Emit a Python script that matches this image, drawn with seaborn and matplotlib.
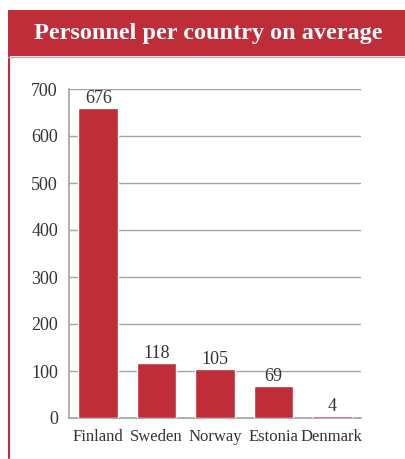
import matplotlib
matplotlib.use("Agg")
import matplotlib.pyplot as plt
import seaborn as sns
import pandas as pd
from matplotlib.patches import Rectangle
from matplotlib.lines import Line2D

countries = ["Finland", "Sweden", "Norway", "Estonia", "Denmark"]
bar_heights = [660, 118, 105, 69, 4]
bar_labels = ["676", "118", "105", "69", "4"]
y_ticks = [0, 100, 200, 300, 400, 500, 600, 700]
title = "Personnel per country on average"

RED = "#BE2D38"
GRID = "#A3A3A3"
TXT = "#333333"

sns.set_theme(style="white")
plt.rcParams['font.family'] = ['Liberation Serif', 'DejaVu Serif']

W, H = 405, 459
fig = plt.figure(figsize=(W / 100, H / 100), dpi=100)

# Banner and frame
fig.add_artist(Rectangle((8 / W, 1 - 56 / H), 1 - 8 / W, 46 / H, transform=fig.transFigure,
                         facecolor=RED, edgecolor="none"))
fig.add_artist(Line2D([8.5 / W, 8.5 / W], [1 - 56 / H, 1 - 458 / H], transform=fig.transFigure,
                      color=RED, lw=1.5))
fig.add_artist(Line2D([8 / W, 1], [1 - 56.5 / H, 1 - 56.5 / H], transform=fig.transFigure,
                      color="#E8A0A5", lw=1))
fig.text((8 + W) / 2 / W + 2 / W, 1 - 33 / H, title, color="white", fontsize=17.5, fontweight="bold",
         ha="center", va="center")

ax = fig.add_axes([69 / W, 1 - 418 / H, (361 - 69) / W, (418 - 89) / H])
df = pd.DataFrame({"country": countries, "value": bar_heights})
sns.barplot(data=df, x="country", y="value", color=RED, saturation=1, width=0.68, ax=ax, zorder=3)

ax.set_xlim(-0.5, 4.5)
ax.set_ylim(0, 700)
ax.set_yticks(y_ticks)
ax.set_yticklabels([str(t) for t in y_ticks])
ax.yaxis.grid(True, color=GRID, lw=1)
ax.set_axisbelow(True)
ax.set_xlabel("")
ax.set_ylabel("")
for s in ["top", "right"]:
    ax.spines[s].set_visible(False)
for s in ["left", "bottom"]:
    ax.spines[s].set_color(GRID)
    ax.spines[s].set_linewidth(1.2)
    ax.spines[s].set_zorder(2)
ax.tick_params(axis="y", length=0, labelsize=13, colors=TXT, pad=8)
ax.tick_params(axis="x", length=0, labelsize=12, colors=TXT, pad=8)

for i, (h, lab) in enumerate(zip(bar_heights, bar_labels)):
    ax.annotate(lab, (i, h), xytext=(0, 0.5), textcoords="offset points",
                ha="center", va="bottom", fontsize=13, color=TXT, zorder=4)

fig.savefig("out.png", dpi=100)
